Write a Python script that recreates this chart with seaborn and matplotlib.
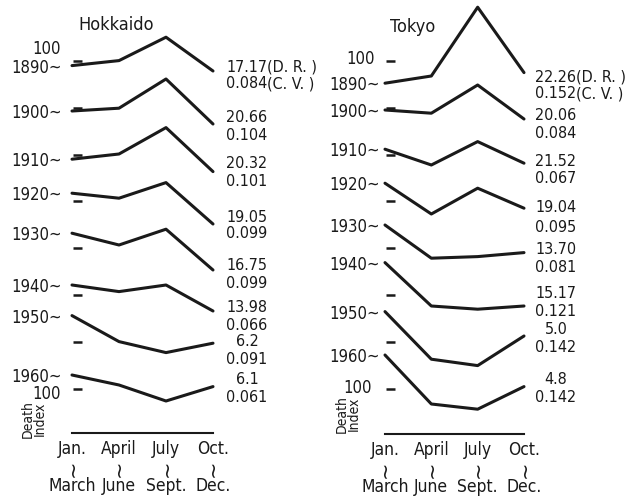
import matplotlib
matplotlib.use("Agg")
import matplotlib.pyplot as plt
from matplotlib import font_manager
import pandas as pd
import seaborn as sns

# Seasonal death index (annual mean = 100) by quarter, per decade
quarter_start = ["Jan.", "April", "July", "Oct."]
quarter_end = ["March", "June", "Sept.", "Dec."]
decades = ["1890~", "1900~", "1910~", "1920~", "1930~", "1940~", "1950~", "1960~"]

hokkaido_index = [
    [97.7, 100.2, 111.9, 95.0],
    [98.4, 99.8, 114.4, 91.9],
    [97.7, 100.3, 113.5, 91.5],
    [104.1, 101.6, 109.4, 88.7],
    [107.5, 101.6, 109.5, 89.1],
    [105.0, 101.7, 105.0, 92.0],
    [113.1, 100.1, 94.6, 99.3],
    [106.8, 101.8, 93.8, 101.0],
]
hokkaido_dr = ["17.17", "20.66", "20.32", "19.05", "16.75", "13.98", "6.2", "6.1"]
hokkaido_cv = ["0.084", "0.104", "0.101", "0.099", "0.099", "0.066", "0.091", "0.061"]

tokyo_index = [
    [88.9, 92.5, 126.9, 94.2],
    [98.9, 97.3, 111.4, 94.4],
    [102.7, 94.8, 106.5, 95.7],
    [109.1, 93.7, 106.6, 96.6],
    [111.6, 95.0, 95.8, 97.8],
    [116.2, 94.5, 92.9, 94.5],
    [115.1, 91.3, 88.1, 102.9],
    [116.8, 92.3, 89.7, 101.0],
]
tokyo_dr = ["22.26", "20.06", "21.52", "19.04", "13.70", "15.17", "5.0", "4.8"]
tokyo_cv = ["0.152", "0.084", "0.067", "0.095", "0.081", "0.121", "0.142", "0.142"]

# Layout: figure in pixels, each decade's curve is shifted down by a fixed step
W, H = 629, 501
PX_PER_UNIT = 2.0          # vertical pixels per index point
FIRST_ROW = 61.0           # pixel row of the 1890 "100" level
ROW_STEP = 46.8            # pixel distance between consecutive decades
INK = "#1a1a1a"

sns.set_theme(style="white")
plt.rcParams["font.family"] = ["DejaVu Sans"]
plt.rcParams["text.color"] = INK

# narrow lettering if a condensed face is installed
cond = None
for f in font_manager.fontManager.ttflist:
    if "DejaVu Sans" in f.name and "Mono" not in f.name and f.weight in (400, "normal", "regular") \
            and f.style == "normal" and ("Condensed" in f.name or f.stretch in ("condensed", "semi-condensed")):
        cond = dict(family=f.name, stretch=f.stretch)
        break
if cond is not None:
    LBL = dict(cond, size=12)
    NUM = dict(cond, size=11.5)
    TCK = dict(cond, size=12.5)
    TTL = dict(cond, size=13)
    SFX = dict(cond, size=11.5)
    CAP = dict(cond, size=10)
else:
    LBL = dict(family="DejaVu Sans", size=10.5)
    NUM = dict(family="DejaVu Sans", size=11)
    TCK = dict(family="DejaVu Sans", size=11)
    TTL = dict(family="DejaVu Sans", size=11.5)
    SFX = dict(family="DejaVu Sans", size=10)
    CAP = dict(family="DejaVu Sans", size=8.5)

fig = plt.figure(figsize=(W / 100, H / 100), dpi=100)


def fig_text(x, y, s, **kw):
    fig.text(x / W, 1 - y / H, s, **kw)


panels = [
    dict(name="Hokkaido", index=hokkaido_index, dr=hokkaido_dr, cv=hokkaido_cv,
         left=72, right=213, base=433, title=(116, 25), gap=10, num_x=247,
         dr_y=[67, 117, 164, 217, 265, 307, 342, 380],
         cv_y=[84, 135, 182, 234, 283, 325, 360, 398],
         hundred=[(47, 49), (47, 394)], death=(34, 419)),
    dict(name="Tokyo", index=tokyo_index, dr=tokyo_dr, cv=tokyo_cv,
         left=385, right=524, base=434, title=(413, 27), gap=5, num_x=556,
         dr_y=[77, 115, 161, 208, 250, 293, 330, 380],
         cv_y=[94, 133, 178, 228, 267, 312, 348, 398],
         hundred=[(361, 59), (358, 388)], death=(348, 414)),
]

for p in panels:
    ax = fig.add_axes([p["left"] / W, (H - p["base"]) / H,
                       (p["right"] - p["left"]) / W, p["base"] / H])
    ax.set_facecolor("none")

    rows = []
    for i, (dec, vals) in enumerate(zip(decades, p["index"])):
        shift = (FIRST_ROW + ROW_STEP * i) / PX_PER_UNIT
        for q, v in enumerate(vals):
            rows.append(dict(decade=dec, quarter=q, value=v, y=(v - 100) - shift))
    df = pd.DataFrame(rows)

    sns.lineplot(data=df, x="quarter", y="y", hue="decade", palette=[INK] * len(decades),
                 linewidth=2.2, legend=False, ax=ax, clip_on=False)

    # short dash marking the 100 level of each decade
    levels = [-(FIRST_ROW + ROW_STEP * i) / PX_PER_UNIT for i in range(len(decades))]
    ax.hlines(levels, 0.03, 0.21, colors=INK, linewidth=1.8)

    # decade labels at the start of each curve
    for dec, vals, lvl in zip(decades, p["index"], levels):
        ax.annotate(dec, xy=(0, (vals[0] - 100) + lvl), xytext=(-p["gap"], -2),
                    textcoords="offset pixels", ha="right", va="center",
                    color=INK, **LBL)

    ax.set_xlim(0, 3)
    ax.set_ylim(-p["base"] / PX_PER_UNIT, 0)
    ax.set_yticks([])
    ax.set_xticks(range(4))
    ax.set_xticklabels(quarter_start, color=INK, **TCK)
    ax.tick_params(axis="x", direction="in", length=4, width=1.2, pad=5, colors=INK)
    # "through" mark and closing month of each quarter
    for q, end in enumerate(quarter_end):
        ax.annotate("~", xy=(q, 0), xycoords=("data", "axes fraction"),
                    xytext=(0, -35), textcoords="offset pixels", rotation=90,
                    ha="center", va="center", fontsize=15, color=INK)
        ax.annotate(end, xy=(q, 0), xycoords=("data", "axes fraction"),
                    xytext=(0, -53), textcoords="offset pixels",
                    ha="center", va="center", color=INK, **TCK)
    ax.set_xlabel("")
    ax.set_ylabel("")
    for side in ["left", "top", "right"]:
        ax.spines[side].set_visible(False)
    ax.spines["bottom"].set_color(INK)
    ax.spines["bottom"].set_linewidth(1.5)

    # panel title, reference labels and axis caption
    fig_text(*p["title"], p["name"], ha="center", va="center", **TTL)
    for hx, hy in p["hundred"]:
        fig_text(hx, hy, "100", ha="center", va="center", **LBL)
    fig_text(*p["death"], "Death\nIndex", ha="center", va="center", rotation=90,
             linespacing=0.85, **CAP)

    # D.R. and C.V. figures beside each curve
    for i in range(len(decades)):
        fig_text(p["num_x"], p["dr_y"][i], p["dr"][i], ha="center", va="center", **NUM)
        fig_text(p["num_x"], p["cv_y"][i], p["cv"][i], ha="center", va="center", **NUM)
    fig_text(p["num_x"] + 20, p["dr_y"][0], "(D. R. )", ha="left", va="center", **SFX)
    fig_text(p["num_x"] + 20, p["cv_y"][0], "(C. V. )", ha="left", va="center", **SFX)

fig.savefig("out.png", dpi=100, facecolor="white")
